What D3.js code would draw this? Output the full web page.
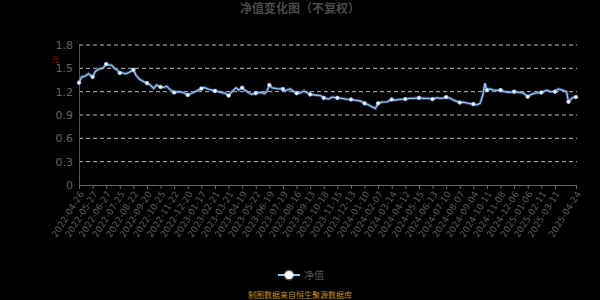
<!DOCTYPE html>
<html>
<head>
<meta charset="utf-8">
<script src="https://cdn.jsdelivr.net/npm/d3@7"></script>
<style>
  html, body { margin: 0; padding: 0; background: #000; }
  svg { display: block; font-family: "Noto Sans CJK SC", "Noto Sans", sans-serif; }
</style>
</head>
<body>
<svg id="chart" width="600" height="300"></svg>
<script>
// trading-day index of each reading, and the net value
var navDays = [
  0, 4, 9, 14, 17, 20, 24, 29, 34, 37, 40, 45, 48, 52, 56, 60, 63, 68, 73, 80,
  84, 89, 95, 100, 105, 110, 114, 120, 124, 129, 135, 140, 146, 153, 160, 166, 173, 180, 184, 191,
  200, 205, 213, 215, 220, 225, 231, 235, 240, 244, 249, 254, 260, 267, 273, 276, 280, 284, 291, 300,
  302, 311, 316, 320, 325, 331, 340, 347, 355, 360, 367, 372, 380, 387, 393, 400, 406, 414, 420, 426,
  431, 436, 440, 445, 453, 460, 465, 471, 480, 486, 492, 500, 507, 514, 520, 526, 534, 540, 546, 551,
  560, 565, 573, 580, 585, 590, 594, 597, 600, 604, 610, 616, 620, 626, 632, 640, 647, 654, 660, 665,
  671, 680, 688, 693, 700, 705, 711, 717, 720, 725, 728, 731
];
var navValues = [
  1.315, 1.39, 1.40, 1.43, 1.41, 1.39, 1.46, 1.49, 1.50, 1.52, 1.555, 1.54, 1.54, 1.50, 1.48, 1.44, 1.445, 1.43, 1.445, 1.48,
  1.41, 1.36, 1.33, 1.31, 1.285, 1.24, 1.285, 1.26, 1.255, 1.27, 1.22, 1.19, 1.20, 1.19, 1.157, 1.18, 1.21, 1.24, 1.255, 1.23,
  1.21, 1.20, 1.18, 1.18, 1.15, 1.20, 1.25, 1.22, 1.25, 1.22, 1.19, 1.165, 1.18, 1.19, 1.175, 1.20, 1.285, 1.25, 1.24, 1.235,
  1.21, 1.235, 1.20, 1.18, 1.18, 1.21, 1.165, 1.157, 1.15, 1.12, 1.105, 1.13, 1.12, 1.115, 1.105, 1.10, 1.09, 1.08, 1.05, 1.03,
  1.005, 0.985, 1.05, 1.065, 1.07, 1.10, 1.09, 1.10, 1.105, 1.115, 1.115, 1.12, 1.115, 1.115, 1.105, 1.12, 1.115, 1.13, 1.115, 1.09,
  1.06, 1.065, 1.05, 1.04, 1.03, 1.05, 1.157, 1.31, 1.22, 1.235, 1.22, 1.215, 1.22, 1.20, 1.19, 1.20, 1.19, 1.18, 1.135, 1.165,
  1.18, 1.19, 1.22, 1.20, 1.20, 1.235, 1.22, 1.20, 1.07, 1.115, 1.13, 1.13
];

var tickDays = [0, 20, 40, 60, 80, 100, 120, 140, 160, 180, 200, 220, 240, 260, 280, 300, 320, 340,
  360, 380, 400, 420, 440, 460, 480, 500, 520, 540, 560, 580, 600, 620, 640, 660, 680, 700, 731];
var tickLabels = [
  "2022-04-26", "2022-05-27", "2022-06-27", "2022-07-25", "2022-08-22", "2022-09-20", "2022-10-25",
  "2022-11-22", "2022-12-20", "2023-01-17", "2023-02-21", "2023-03-21", "2023-04-19", "2023-05-22",
  "2023-06-19", "2023-07-19", "2023-08-16", "2023-09-13", "2023-10-18", "2023-11-15", "2023-12-13",
  "2024-01-10", "2024-02-07", "2024-03-14", "2024-04-12", "2024-05-15", "2024-06-13", "2024-07-10",
  "2024-08-07", "2024-09-04", "2024-10-11", "2024-11-08", "2024-12-06", "2025-01-06", "2025-02-11",
  "2025-03-11", "2025-04-24"
];
var yTicks = [0, 0.3, 0.6, 0.9, 1.2, 1.5, 1.8];

(function () {
  var svg = d3.select("#chart");
  var plotLeft = 79, plotRight = 576, plotTop = 45, plotBottom = 185;
  var lineColor = "#9cc4f2";

  var x = d3.scaleLinear().domain([0, 731]).range([plotLeft, plotRight]);
  var y = d3.scaleLinear().domain([0, 1.8]).range([plotBottom, plotTop]);

  svg.append("rect").attr("width", 600).attr("height", 300).attr("fill", "#000");

  svg.append("text")
    .attr("x", 300).attr("y", 13)
    .attr("text-anchor", "middle")
    .attr("font-size", 12).attr("font-weight", "bold")
    .attr("fill", "#4a4a4a")
    .text("净值变化图（不复权）");

  // grid
  svg.append("g").selectAll("line")
    .data(yTicks.filter(function (d) { return d > 0; }))
    .enter().append("line")
    .attr("x1", plotLeft).attr("x2", plotRight + 1)
    .attr("y1", function (d) { return y(d); })
    .attr("y2", function (d) { return y(d); })
    .attr("stroke", "#bbb").attr("stroke-width", 1)
    .attr("stroke-dasharray", "4,3");

  // y axis
  var yAxis = svg.append("g")
    .attr("transform", "translate(" + plotLeft + ",0)")
    .call(d3.axisLeft(y).tickValues(yTicks).tickSize(0).tickPadding(6)
      .tickFormat(function (d) { return d === 0 ? "0" : d3.format(".1f")(d); }));
  yAxis.select(".domain").attr("stroke", "#555");
  yAxis.selectAll("text").attr("fill", "#666").attr("font-size", 11)
    .attr("font-family", "DejaVu Sans, sans-serif");

  svg.append("text")
    .attr("x", 55).attr("y", 62)
    .attr("text-anchor", "middle")
    .attr("font-size", 7).attr("fill", "#9a1010")
    .text("元");

  // x axis
  var xAxis = svg.append("g")
    .attr("transform", "translate(0," + plotBottom + ")")
    .call(d3.axisBottom(x).tickValues(tickDays).tickSize(4).tickSizeOuter(0)
      .tickFormat(function (d, i) { return tickLabels[i]; }));
  xAxis.select(".domain").attr("stroke", "#666");
  xAxis.selectAll(".tick line").attr("stroke", "#666");
  xAxis.selectAll("text")
    .attr("fill", "#5c5c5c").attr("font-size", 9)
    .attr("font-family", "DejaVu Sans, sans-serif")
    .attr("text-anchor", "end")
    .attr("x", 0).attr("y", 0)
    .attr("dy", "0.35em")
    .attr("transform", "translate(2,7) rotate(-58)");

  var points = navDays.map(function (d, i) { return { day: d, value: navValues[i] }; });

  var line = d3.line()
    .x(function (d) { return x(d.day); })
    .y(function (d) { return y(d.value); });

  svg.append("path")
    .datum(points)
    .attr("fill", "none")
    .attr("stroke", "#5b8fd0").attr("stroke-opacity", 0.45)
    .attr("stroke-width", 3.2)
    .attr("d", line);
  svg.append("path")
    .datum(points)
    .attr("fill", "none")
    .attr("stroke", lineColor)
    .attr("stroke-width", 1.3)
    .attr("d", line);

  svg.append("g").selectAll("circle")
    .data(points.filter(function (d, i) { return d.day % 20 === 0 || i === points.length - 1; }))
    .enter().append("circle")
    .attr("cx", function (d) { return x(d.day); })
    .attr("cy", function (d) { return y(d.value); })
    .attr("r", 1.8)
    .attr("fill", "#fff")
    .attr("stroke", lineColor).attr("stroke-width", 0.8);

  // legend
  var legend = svg.append("g").attr("transform", "translate(289,275)");
  legend.append("line")
    .attr("x1", -11).attr("x2", 11)
    .attr("stroke", lineColor).attr("stroke-width", 2);
  legend.append("circle").attr("r", 5.5).attr("fill", "#fff").attr("opacity", 0.3);
  legend.append("circle").attr("r", 4).attr("fill", "#fff");
  legend.append("text")
    .attr("x", 15).attr("y", 4)
    .attr("font-size", 10).attr("fill", "#555")
    .text("净值");

  svg.append("text")
    .attr("x", 300).attr("y", 298)
    .attr("text-anchor", "middle")
    .attr("font-size", 8).attr("fill", "#c8901a")
    .text("制图数据来自恒生聚源数据库");
})();
</script>
</body>
</html>
